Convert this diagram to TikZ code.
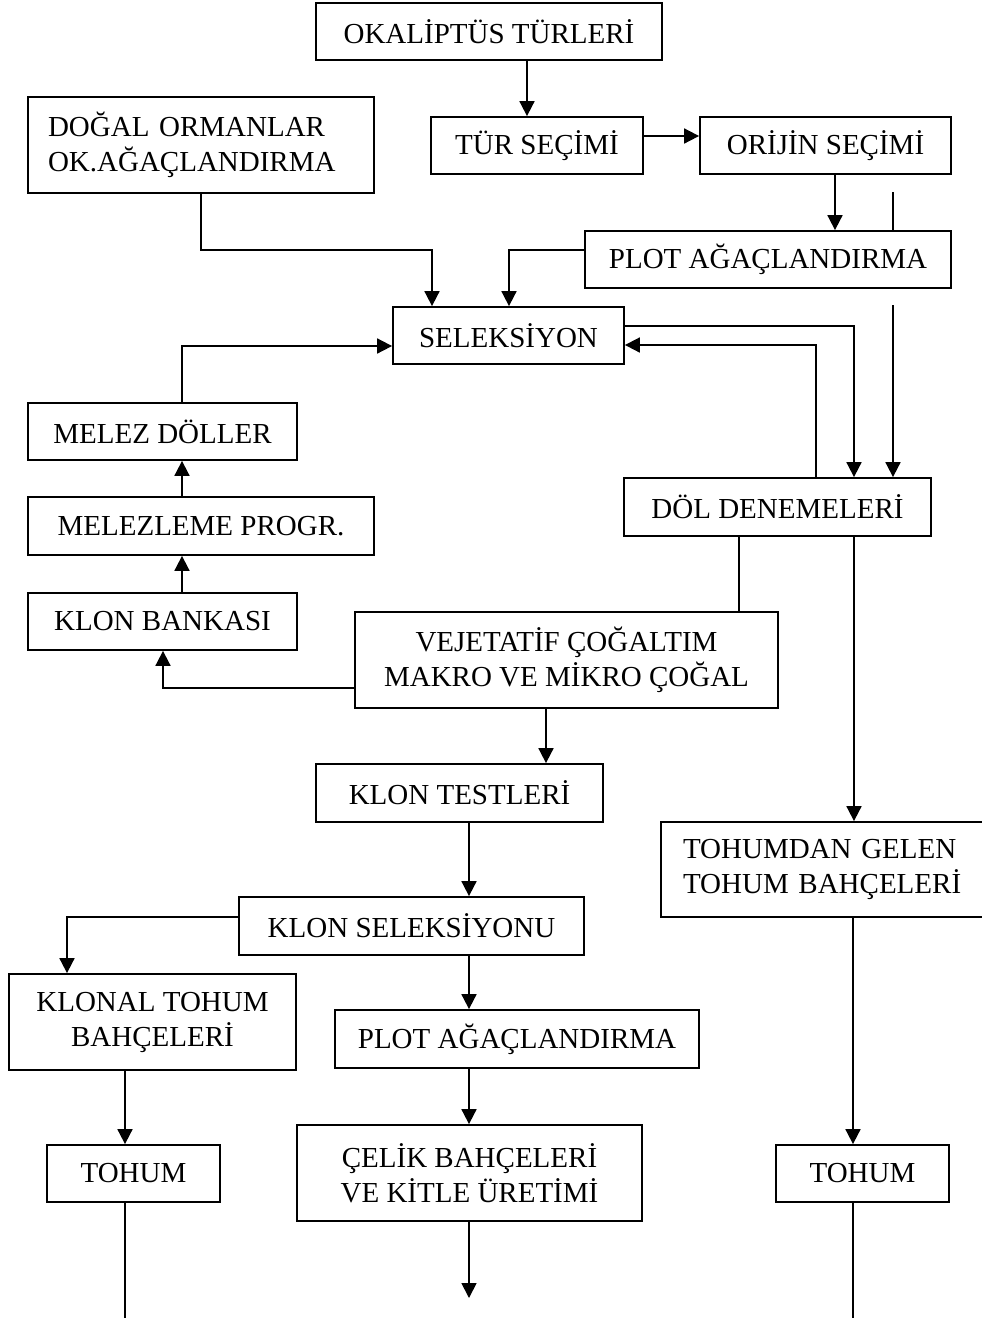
\documentclass[tikz,border=0pt]{standalone}
\usepackage{fontspec}
\setmainfont{Liberation Serif}
\usetikzlibrary{arrows.meta}
\begin{document}
\begin{tikzpicture}[x=1pt,y=-1pt,
  box/.style={draw, line width=1.8pt, inner sep=0pt, align=center,
    font=\fontsize{29}{35}\selectfont},
  lbox/.style={draw, line width=1.8pt, inner ysep=0pt, align=left,
    font=\fontsize{29}{35}\selectfont},
  con/.style={line width=1.8pt},
  arr/.style={line width=1.8pt, -{Triangle[width=15pt,length=15pt]}}]
\useasboundingbox (0,0) rectangle (982,1318);

\node[box, minimum width=346pt, minimum height=57pt] (okal) at (489,31.5) {OKALİPTÜS TÜRLERİ};
\node[box, minimum width=212pt, minimum height=57pt] (tur) at (537,145.5) {TÜR SEÇİMİ};
\node[box, minimum width=251pt, minimum height=57pt] (orijin) at (825.5,145.5) {ORİJİN SEÇİMİ};
\node[lbox, inner xsep=20pt, text width=306pt, minimum height=96pt] (dogal) at (201,145) {DOĞAL ORMANLAR\\OK.AĞAÇLANDIRMA};
\node[box, minimum width=366pt, minimum height=57pt] (plot1) at (768,259.5) {PLOT AĞAÇLANDIRMA};
\node[box, minimum width=231pt, minimum height=57pt] (sel) at (508.5,335.5) {SELEKSİYON};
\node[box, minimum width=269pt, minimum height=57pt] (melez) at (162.5,431.5) {MELEZ DÖLLER};
\node[box, minimum width=346pt, minimum height=58pt] (melprog) at (201,526) {MELEZLEME PROGR.};
\node[box, minimum width=269pt, minimum height=57pt] (bank) at (162.5,621.5) {KLON BANKASI};
\node[box, minimum width=307pt, minimum height=58pt] (dol) at (777.5,507) {DÖL DENEMELERİ};
\node[box, minimum width=423pt, minimum height=96pt] (vej) at (566.5,660) {VEJETATİF ÇOĞALTIM\\MAKRO VE MİKRO ÇOĞAL};
\node[box, minimum width=287pt, minimum height=58pt] (ktest) at (459.5,793) {KLON TESTLERİ};
\node[box, minimum width=345pt, minimum height=58pt] (ksel) at (411.5,926) {KLON SELEKSİYONU};
\node[lbox, inner xsep=22pt, text width=298pt, minimum height=95pt] (tohumdan) at (832,869.5) {TOHUMDAN GELEN\\TOHUM BAHÇELERİ};
\node[box, minimum width=287pt, minimum height=96pt] (klonal) at (152.5,1022) {KLONAL TOHUM\\BAHÇELERİ};
\node[box, minimum width=364pt, minimum height=58pt] (plot2) at (517,1039) {PLOT AĞAÇLANDIRMA};
\node[box, minimum width=345pt, minimum height=96pt] (celik) at (469.5,1173) {ÇELİK BAHÇELERİ\\VE KİTLE ÜRETİMİ};
\node[box, minimum width=173pt, minimum height=57pt] (tohum1) at (133.5,1173.5) {TOHUM};
\node[box, minimum width=173pt, minimum height=57pt] (tohum2) at (862.5,1173.5) {TOHUM};

\coordinate (s1) at (893,192);
\coordinate (s2) at (893,305);
\coordinate (e1) at (469,1298);
\coordinate (e2) at (125,1322);
\coordinate (e3) at (853,1322);

\draw[arr] (527,0 |- okal.south) -- (527,0 |- tur.north);
\draw[arr] (tur.east |- 0,136) -- (orijin.west |- 0,136);
\draw[arr] (835,0 |- orijin.south) -- (835,0 |- plot1.north);
\draw[con] (s1) -- (893,0 |- plot1.north);
\draw[arr] (201,0 |- dogal.south) -- (201,250) -| (432,0 |- sel.north);
\draw[arr] (plot1.west |- 0,250) -| (509,0 |- sel.north);
\draw[arr] (182,0 |- melez.north) |- (sel.west |- 0,346);
\draw[arr] (sel.east |- 0,326) -| (854,0 |- dol.north);
\draw[arr] (816,0 |- dol.north) |- (sel.east |- 0,345);
\draw[arr] (s2) -- (893,0 |- dol.north);
\draw[arr] (182,0 |- melprog.north) -- (182,0 |- melez.south);
\draw[arr] (182,0 |- bank.north) -- (182,0 |- melprog.south);
\draw[arr] (vej.west |- 0,688) -| (163,0 |- bank.south);
\draw[con] (739,0 |- dol.south) -- (739,0 |- vej.north);
\draw[arr] (854,0 |- dol.south) -- (854,0 |- tohumdan.north);
\draw[arr] (546,0 |- vej.south) -- (546,0 |- ktest.north);
\draw[arr] (469,0 |- ktest.south) -- (469,0 |- ksel.north);
\draw[arr] (ksel.west |- 0,917) -| (67,0 |- klonal.north);
\draw[arr] (469,0 |- ksel.south) -- (469,0 |- plot2.north);
\draw[arr] (469,0 |- plot2.south) -- (469,0 |- celik.north);
\draw[arr] (469,0 |- celik.south) -- (e1);
\draw[arr] (125,0 |- klonal.south) -- (125,0 |- tohum1.north);
\draw[con] (125,0 |- tohum1.south) -- (e2);
\draw[arr] (853,0 |- tohumdan.south) -- (853,0 |- tohum2.north);
\draw[con] (853,0 |- tohum2.south) -- (e3);
\end{tikzpicture}
\end{document}
